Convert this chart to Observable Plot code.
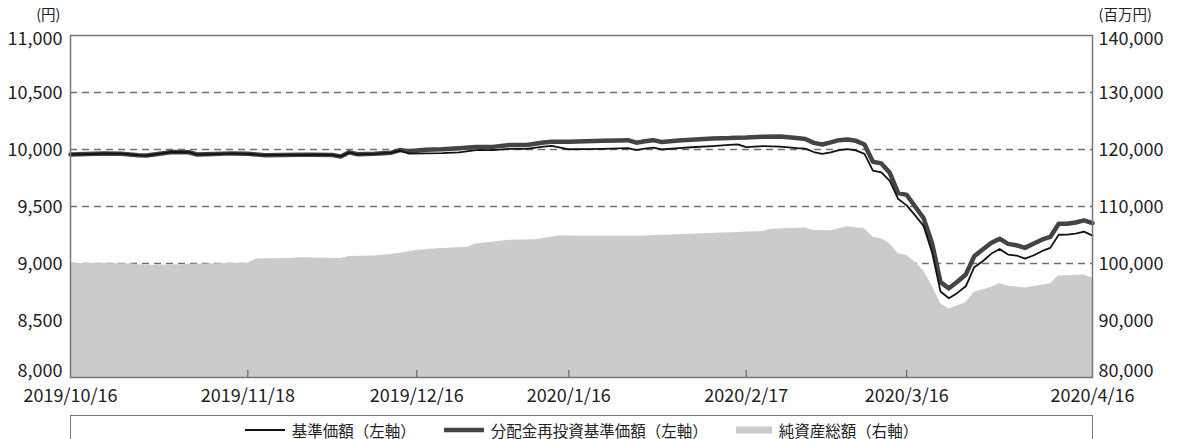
<!DOCTYPE html>
<html><head><meta charset="utf-8">
<script src="https://cdn.jsdelivr.net/npm/d3@7"></script>
<script src="https://cdn.jsdelivr.net/npm/@observablehq/plot@0.6"></script>
<style>
body{margin:0;background:#fff;font-family:'Noto Sans CJK JP',sans-serif;}
#legend{margin-left:70px;width:1023px;height:40px;box-sizing:border-box;border:1px solid #777;display:flex;justify-content:center;align-items:flex-start;padding-top:3px;font-size:15.5px;color:#222;}
.item{display:flex;align-items:center;margin:0 14px;}
.item svg{margin-right:7px;}
</style></head><body>
<div id="chart"></div>
<div id="legend"></div>
<script>
// Business-day index of tick dates (x axis)
const tickIdx = [0, 21, 41, 59, 80, 99, 121];
const tickDates = ["2019/10/16", "2019/11/18", "2019/12/16", "2020/1/16", "2020/2/17", "2020/3/16", "2020/4/16"];
const leftTicks = [8000, 8500, 9000, 9500, 10000, 10500, 11000];
const rightTicks = [80000, 90000, 100000, 110000, 120000, 130000, 140000];

// 基準価額 / 分配金再投資基準価額 (円)
const navIdx = [0,2,4,6,8,9,11,12,14,15,17,19,21,23,25,27,29,31,32,33,34,36,38,39,40,42,44,46,48,50,52,54,56,57,59,61,63,65,66,67,68,69,70,72,74,76,78,79,80,82,84,86,87,88,89,90,91,92,93,94,95,96,97,98,99,100,101,102,103,104,105,106,107,108,109,110,111,112,113,114,115,116,117,118,119,120,121];
const navBase = [9956,9960,9965,9963,9950,9947,9968,9978,9976,9956,9960,9966,9962,9950,9952,9953,9954,9952,9938,9975,9958,9962,9972,9990,9965,9966,9968,9975,9994,9994,10006,10006,10025,10032,10002,10003,10006,10010,10012,9995,10008,10017,10000,10012,10022,10030,10040,10045,10020,10030,10025,10012,10008,9978,9962,9975,9995,10003,9993,9962,9815,9800,9725,9565,9510,9422,9330,9100,8755,8695,8742,8800,8968,9020,9085,9128,9078,9070,9042,9070,9108,9137,9252,9253,9262,9280,9244];
const navReinv = [9956,9960,9965,9963,9950,9947,9968,9978,9976,9956,9960,9966,9962,9950,9952,9953,9954,9952,9938,9975,9958,9962,9972,9995,9985,9998,10003,10012,10023,10023,10040,10040,10062,10068,10068,10072,10076,10080,10082,10060,10072,10082,10066,10078,10088,10096,10100,10104,10105,10112,10115,10100,10092,10058,10044,10062,10082,10087,10076,10044,9892,9878,9795,9618,9602,9500,9398,9180,8837,8782,8840,8904,9064,9122,9180,9218,9172,9160,9137,9174,9209,9233,9349,9349,9360,9378,9355];

// 純資産総額 (百万円)
const assetIdx = [0,3,7,9,13,17,21,22,26,27,32,33,36,38,41,43,47,48,52,55,58,60,67,75,82,83,87,88,90,92,94,95,96,97,98,99,100,101,102,103,104,106,107,109,110,111,113,116,117,120,121];
const assets = [100000,100000,99940,99650,99770,99940,100060,100800,100880,101000,100880,101230,101300,101580,102280,102560,102860,103440,104090,104150,104850,104800,104800,105230,105630,105990,106220,105800,105760,106450,106100,104650,104350,103450,101700,101400,100200,98750,96100,93000,92000,93100,94950,95800,96480,96070,95700,96450,97800,97980,97450];

const toLeft = v => 8000 + (v - 80000) / 20;
const fmt = d3.format(",");

const baseData = navIdx.map((i, k) => ({i, v: navBase[k]}));
const reinvData = navIdx.map((i, k) => ({i, v: navReinv[k]}));
const assetData = assetIdx.map((i, k) => ({i, v: assets[k]}));

const axisText = {fontSize: 18, fill: "#222", label: null};

const chart = Plot.plot({
  width: 1178, height: 415,
  marginLeft: 70, marginRight: 86, marginTop: 35, marginBottom: 38,
  style: {fontFamily: "'Noto Sans CJK JP', sans-serif", fontSize: "18px", color: "#222", background: "#fff"},
  x: {domain: [0, 121], axis: null},
  y: {domain: [8000, 11000], axis: null},
  marks: [
    Plot.ruleY(leftTicks.slice(1, -1), {stroke: "#707070", strokeWidth: 1.4, strokeDasharray: "7,5"}),
    Plot.areaY(assetData, {x: "i", y1: 8000, y2: d => toLeft(d.v), fill: "#cbcbcb"}),
    Plot.line(reinvData, {x: "i", y: "v", stroke: "#444", strokeWidth: 4.5}),
    Plot.line(baseData, {x: "i", y: "v", stroke: "#111", strokeWidth: 1.8}),
    Plot.frame({stroke: "#777", strokeWidth: 1.5}),
    Plot.axisX(tickIdx.slice(1, -1), {tickSize: -7, tickFormat: () => "", stroke: "#555", label: null}),
    Plot.axisX(tickIdx, {...axisText, tickSize: 0, tickPadding: 12, tickFormat: i => tickDates[tickIdx.indexOf(i)]}),
    Plot.axisY(leftTicks.slice(1, -1), {...axisText, anchor: "left", tickSize: 0, tickPadding: 8, tickFormat: fmt, dy: 1}),
    Plot.axisY(leftTicks.slice(-1), {...axisText, anchor: "left", tickSize: 0, tickPadding: 8, tickFormat: fmt, dy: 4}),
    Plot.axisY(leftTicks.slice(0, 1), {...axisText, anchor: "left", tickSize: 0, tickPadding: 8, tickFormat: fmt, dy: -6}),
    Plot.axisY(rightTicks.slice(1, -1).map(toLeft), {...axisText, anchor: "right", tickSize: 0, tickPadding: 6, tickFormat: d => fmt(Math.round(80000 + (d - 8000) * 20)), dy: 1}),
    Plot.axisY(rightTicks.slice(-1).map(toLeft), {...axisText, anchor: "right", tickSize: 0, tickPadding: 6, tickFormat: d => fmt(Math.round(80000 + (d - 8000) * 20)), dy: 4}),
    Plot.axisY(rightTicks.slice(0, 1).map(toLeft), {...axisText, anchor: "right", tickSize: 0, tickPadding: 6, tickFormat: d => fmt(Math.round(80000 + (d - 8000) * 20)), dy: -6}),
    Plot.text(["(円)"], {frameAnchor: "top-left", dx: -10, dy: -26, textAnchor: "end", fontSize: 14.5, fill: "#222"}),
    Plot.text(["(百万円)"], {frameAnchor: "top-right", dx: 6, dy: -26, textAnchor: "start", fontSize: 14.5, fill: "#222"})
  ]
});
document.getElementById("chart").appendChild(chart);

const legendItems = [
  {label: "基準価額（左軸）", type: "line", color: "#111", w: 1.8},
  {label: "分配金再投資基準価額（左軸）", type: "line", color: "#444", w: 4.5},
  {label: "純資産総額（右軸）", type: "rect", color: "#cbcbcb", w: 7}
];
const leg = document.getElementById("legend");
for (const it of legendItems) {
  const d = document.createElement("div");
  d.className = "item";
  const sw = it.type === "line"
    ? `<svg width="40" height="16"><line x1="0" x2="40" y1="8" y2="8" stroke="${it.color}" stroke-width="${it.w}"/></svg>`
    : `<svg width="36" height="16"><rect x="0" y="4.5" width="36" height="7" fill="${it.color}"/></svg>`;
  d.innerHTML = sw + `<span>${it.label}</span>`;
  leg.appendChild(d);
}
</script>
</body></html>
